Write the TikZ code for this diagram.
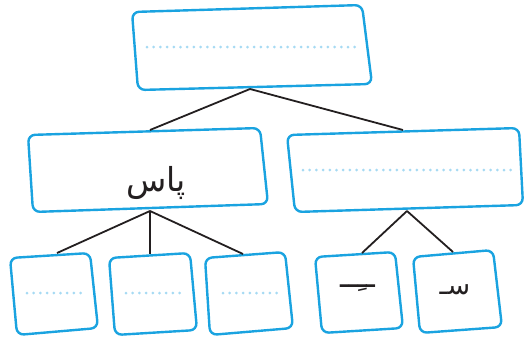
\documentclass[tikz,border=0pt]{standalone}
\usepackage{fontspec}
\TeXXeTstate=1
\newfontfamily\arabicfont[Script=Arabic]{DejaVu Sans}
\definecolor{boxblue}{HTML}{1AA3E0}
\definecolor{dotblue}{HTML}{A6DAF3}
\definecolor{ink}{HTML}{231F20}
\begin{document}
\begin{tikzpicture}[x=1pt,y=-1pt,
  box/.style={draw=boxblue,line width=2.4pt,rounded corners=7pt},
  dots/.style={draw=dotblue,line width=3pt,line cap=round,dash pattern=on 0pt off 6.7pt},
  conn/.style={draw=ink,line width=1.8pt},
  lbl/.style={inner sep=0pt,text=ink}]
\useasboundingbox (0,0) rectangle (531,341);
% boxes
\draw[box] (132,12) -- (362,5) -- (372,84) -- (138,90) -- cycle;
\draw[box] (28,135) -- (260,128) -- (268,204) -- (33,212) -- cycle;
\draw[box] (287,135) -- (519,128) -- (523,205) -- (295,212) -- cycle;
\draw[box] (10,258) -- (90,253) -- (98,328) -- (17,335) -- cycle;
\draw[box] (109,258) -- (190,253) -- (197,330) -- (115,335) -- cycle;
\draw[box] (205,258) -- (285,252) -- (293,328) -- (210,335) -- cycle;
\draw[box] (315,257) -- (395,252) -- (403,328) -- (322,333) -- cycle;
\draw[box] (413,257) -- (493,250) -- (502,327) -- (420,333) -- cycle;
% dotted blanks
\draw[dots] (147,47) -- (356,47);
\draw[dots] (303,170) -- (513,170);
\draw[dots] (27,293) -- (83,293);
\draw[dots] (126,293) -- (181,293);
\draw[dots] (223,293) -- (278,293);
% connection points
\coordinate (topB) at (250,89);
\coordinate (LT) at (150,130);
\coordinate (RT) at (403,130);
\coordinate (LB) at (150,211);
\coordinate (RB) at (407,211);
\coordinate (b1T) at (57,253);
\coordinate (b2T) at (150,254);
\coordinate (b3T) at (243,254);
\coordinate (b4T) at (362,253);
\coordinate (b5T) at (453,252);
\draw[conn] (topB) -- (LT);
\draw[conn] (topB) -- (RT);
\draw[conn] (LB) -- (b1T);
\draw[conn] (LB) -- (b2T);
\draw[conn] (LB) -- (b3T);
\draw[conn] (RB) -- (b4T);
\draw[conn] (RB) -- (b5T);
% texts
\node[lbl,font=\fontsize{33}{38}\selectfont] (pas) at (156,183) {\arabicfont\beginR پاس\endR};
\node[lbl,font=\fontsize{30}{34}\selectfont] (zer) at (358,288) {\arabicfont\beginR ــِــ\endR};
\node[lbl,font=\fontsize{27}{31}\selectfont] (seen) at (455,290) {\arabicfont\beginR سـ\endR};
\end{tikzpicture}
\end{document}
